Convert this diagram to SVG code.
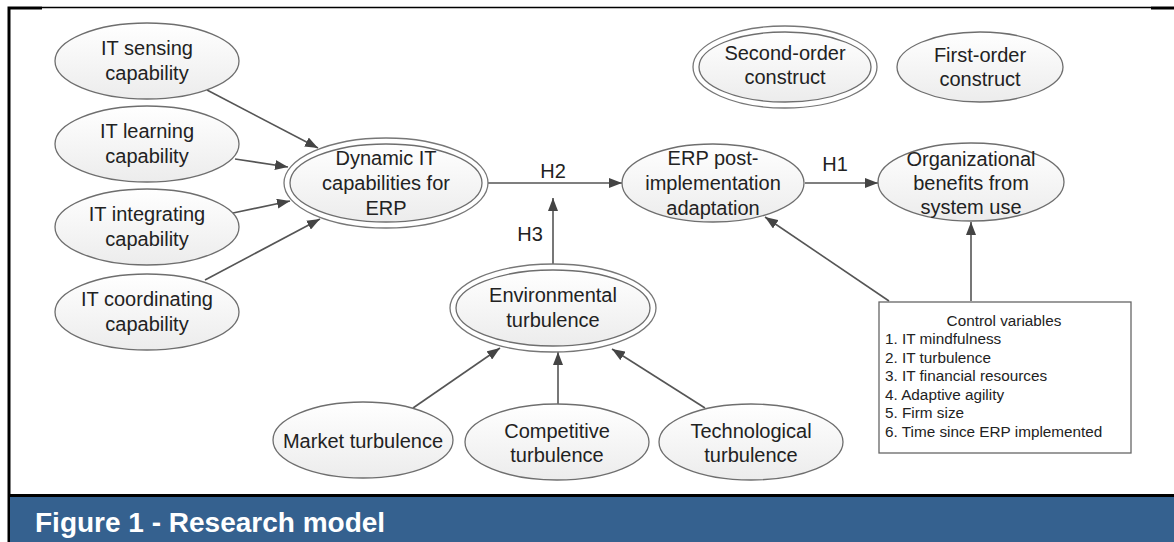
<svg xmlns="http://www.w3.org/2000/svg" width="1174" height="542" viewBox="0 0 1174 542">
<style>
.n{fill:url(#g);stroke:#6e6e6e;stroke-width:1.3}
.o{fill:#fff;stroke:#777;stroke-width:1.3}
.t{font-family:"Liberation Sans",Arial,sans-serif;font-size:20px;fill:#222;text-anchor:middle}
.s{font-family:"Liberation Sans",Arial,sans-serif;font-size:15.3px;fill:#222}
.e{stroke:#555;stroke-width:1.6;fill:none;marker-end:url(#a)}
</style>
<defs>
<linearGradient id="g" x1="0" y1="0" x2="0" y2="1">
<stop offset="0" stop-color="#ffffff"/>
<stop offset="1" stop-color="#ececec"/>
</linearGradient>
<marker id="a" markerUnits="userSpaceOnUse" markerWidth="14" markerHeight="10" refX="13" refY="5" orient="auto">
<path d="M0,0 L13,5 L0,10 z" fill="#444"/>
</marker>
</defs>
<rect x="0" y="0" width="1174" height="542" fill="#fff"/>
<g id="frame">
<path d="M9,542 V8 H42" fill="none" stroke="#000" stroke-width="3"/>
<line x1="42" y1="7.5" x2="1151" y2="7.5" stroke="#000" stroke-width="1.5"/>
<line x1="1151" y1="8" x2="1174" y2="8" stroke="#000" stroke-width="3"/>
<rect x="10" y="497" width="1164" height="45" fill="#35618f"/>
<line x1="8" y1="495.5" x2="1174" y2="495.5" stroke="#000" stroke-width="3"/>
<text x="35" y="532" style="font-family:'Liberation Sans',Arial,sans-serif;font-size:28px;font-weight:bold;fill:#fff">Figure 1 - Research model</text>
</g>
<g id="connectors">
<line class="e" x1="207" y1="90" x2="318" y2="148"/>
<line class="e" x1="235" y1="159" x2="288" y2="167"/>
<line class="e" x1="233" y1="213" x2="290" y2="201"/>
<line class="e" x1="205" y1="280" x2="320" y2="219"/>
<line class="e" x1="487" y1="183" x2="622" y2="183"/>
<line class="e" x1="553" y1="264" x2="553" y2="198"/>
<line class="e" x1="805" y1="183" x2="878" y2="183"/>
<line class="e" x1="413" y1="408" x2="500" y2="348"/>
<line class="e" x1="558" y1="405" x2="558" y2="352"/>
<line class="e" x1="705" y1="408" x2="612" y2="349"/>
<line class="e" x1="889" y1="301" x2="765" y2="217"/>
<line class="e" x1="971" y1="301" x2="971" y2="222"/>
<text class="t" x="553" y="178">H2</text>
<text class="t" x="530" y="241">H3</text>
<text class="t" x="835" y="171">H1</text>
</g>
<g id="it-sensing">
<ellipse class="n" cx="147" cy="61" rx="92" ry="38"/>
<text class="t" x="147" y="55">IT sensing</text>
<text class="t" x="147" y="80">capability</text>
</g>
<g id="it-learning">
<ellipse class="n" cx="147" cy="144" rx="92" ry="38"/>
<text class="t" x="147" y="138">IT learning</text>
<text class="t" x="147" y="163">capability</text>
</g>
<g id="it-integrating">
<ellipse class="n" cx="147" cy="227" rx="92" ry="38"/>
<text class="t" x="147" y="221">IT integrating</text>
<text class="t" x="147" y="246">capability</text>
</g>
<g id="it-coordinating">
<ellipse class="n" cx="147" cy="312" rx="92" ry="38"/>
<text class="t" x="147" y="306">IT coordinating</text>
<text class="t" x="147" y="331">capability</text>
</g>
<g id="dynamic-it">
<ellipse class="o" cx="386" cy="183" rx="102" ry="45"/>
<ellipse class="n" cx="386" cy="183" rx="96" ry="39"/>
<text class="t" x="386" y="165">Dynamic IT</text>
<text class="t" x="386" y="190">capabilities for</text>
<text class="t" x="386" y="215">ERP</text>
</g>
<g id="erp-adaptation">
<ellipse class="n" cx="713" cy="183" rx="91" ry="39"/>
<text class="t" x="713" y="165">ERP post-</text>
<text class="t" x="713" y="190">implementation</text>
<text class="t" x="713" y="215">adaptation</text>
</g>
<g id="org-benefits">
<ellipse class="n" cx="971" cy="182" rx="93" ry="39"/>
<text class="t" x="971" y="166">Organizational</text>
<text class="t" x="971" y="190">benefits from</text>
<text class="t" x="971" y="214">system use</text>
</g>
<g id="second-order">
<ellipse class="o" cx="785" cy="67" rx="92" ry="41"/>
<ellipse class="n" cx="785" cy="67" rx="86" ry="35"/>
<text class="t" x="785" y="60">Second-order</text>
<text class="t" x="785" y="84">construct</text>
</g>
<g id="first-order">
<ellipse class="n" cx="980" cy="67" rx="83" ry="35"/>
<text class="t" x="980" y="62">First-order</text>
<text class="t" x="980" y="86">construct</text>
</g>
<g id="environmental">
<ellipse class="o" cx="553" cy="308" rx="103" ry="44"/>
<ellipse class="n" cx="553" cy="308" rx="97" ry="38"/>
<text class="t" x="553" y="302">Environmental</text>
<text class="t" x="553" y="327">turbulence</text>
</g>
<g id="market">
<ellipse class="n" cx="363" cy="440" rx="90" ry="38"/>
<text class="t" x="363" y="448">Market turbulence</text>
</g>
<g id="competitive">
<ellipse class="n" cx="557" cy="442" rx="92" ry="38"/>
<text class="t" x="557" y="438">Competitive</text>
<text class="t" x="557" y="462">turbulence</text>
</g>
<g id="technological">
<ellipse class="n" cx="751" cy="442" rx="92" ry="38"/>
<text class="t" x="751" y="438">Technological</text>
<text class="t" x="751" y="462">turbulence</text>
</g>
<g id="control-variables">
<rect x="879" y="302" width="252" height="151" fill="#fff" stroke="#666" stroke-width="1.3"/>
<text class="s" x="1004" y="326" text-anchor="middle">Control variables</text>
<text class="s" x="885" y="344">1. IT mindfulness</text>
<text class="s" x="885" y="363">2. IT turbulence</text>
<text class="s" x="885" y="381">3. IT financial resources</text>
<text class="s" x="885" y="400">4. Adaptive agility</text>
<text class="s" x="885" y="418">5. Firm size</text>
<text class="s" x="885" y="437">6. Time since ERP implemented</text>
</g>
</svg>
